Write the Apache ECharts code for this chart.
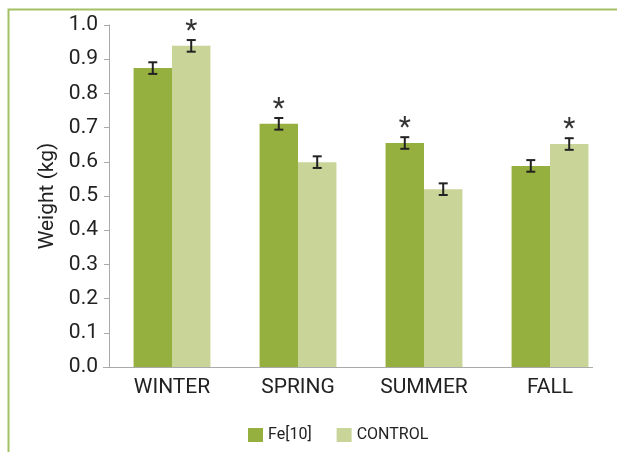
<!DOCTYPE html>
<html><head><meta charset="utf-8">
<script src="https://cdn.jsdelivr.net/npm/echarts@6/dist/echarts.min.js"></script>
<style>html,body{margin:0;padding:0;background:#fff}#c{width:617px;height:452px}</style>
</head><body><div id="c"></div>
<script>
const categories = ['WINTER', 'SPRING', 'SUMMER', 'FALL'];
const seriesNames = ['Fe[10]', 'CONTROL'];
const feValues = [0.874, 0.711, 0.655, 0.588];
const controlValues = [0.939, 0.599, 0.520, 0.652];
const feErrors = [0.017, 0.017, 0.017, 0.017];
const controlErrors = [0.017, 0.017, 0.017, 0.017];
const feSignificant = [false, true, true, false];
const controlSignificant = [true, false, false, true];
const yTicks = ['0.0','0.1','0.2','0.3','0.4','0.5','0.6','0.7','0.8','0.9','1.0'];

const FE_COLOR = '#95b03e';
const CTRL_COLOR = '#c8d498';
const GAP = 0.39;
const FONT = 'Roboto, "Noto Sans", sans-serif';

function errorSeries(idx, values, errors, sig) {
  return {
    type: 'custom',
    name: seriesNames[idx] + ' err',
    z: 5,
    silent: true,
    data: categories.map((c, i) => [i, values[i], errors[i], sig[i] ? 1 : 0]),
    renderItem: function (params, api) {
      const ci = api.value(0), v = api.value(1), e = api.value(2), s = api.value(3);
      const band = api.size([1, 0])[0];
      const barW = band * (1 - GAP) / 2;
      const cx = api.coord([ci, v])[0] + (idx === 0 ? -barW / 2 : barW / 2);
      const yHi = api.coord([ci, v + e])[1];
      const yLo = api.coord([ci, v - e])[1];
      const cap = 4.5;
      const st = { stroke: '#222', lineWidth: 2 };
      const children = [
        { type: 'line', shape: { x1: cx, y1: yHi, x2: cx, y2: yLo }, style: st },
        { type: 'line', shape: { x1: cx - cap, y1: yHi, x2: cx + cap, y2: yHi }, style: st },
        { type: 'line', shape: { x1: cx - cap, y1: yLo, x2: cx + cap, y2: yLo }, style: st }
      ];
      if (s) {
        children.push({ type: 'text', style: { text: '*', x: cx, y: yHi - 8, align: 'center', verticalAlign: 'middle', font: '28px ' + FONT, fill: '#333' } });
      }
      return { type: 'group', children: children };
    }
  };
}

const chart = echarts.init(document.getElementById('c'));
chart.setOption({
  animation: false,
  backgroundColor: '#fff',
  grid: { left: 109, right: 4, top: 25, bottom: 85, containLabel: false },
  legend: {
    data: seriesNames,
    bottom: 4,
    left: 243,
    itemWidth: 15, itemHeight: 14, itemGap: 25,
    icon: 'rect',
    textStyle: { fontFamily: FONT, fontSize: 16, color: '#222' }
  },
  xAxis: {
    type: 'category',
    data: categories,
    axisLine: { show: false },
    axisTick: { show: false },
    axisLabel: { fontFamily: FONT, fontSize: 21, color: '#222', margin: 10 }
  },
  yAxis: {
    type: 'value',
    min: 0, max: 1, interval: 0.1,
    name: 'Weight (kg)',
    nameLocation: 'middle',
    nameGap: 49,
    nameTextStyle: { fontFamily: FONT, fontSize: 21, color: '#222' },
    axisLine: { show: true, lineStyle: { color: '#aaa', width: 1 } },
    axisTick: { show: true, length: 5, lineStyle: { color: '#aaa' } },
    splitLine: { show: false },
    axisLabel: { fontFamily: FONT, fontSize: 21, color: '#222', margin: 11,
      formatter: function (v) { return yTicks[Math.round(v * 10)]; } }
  },
  series: [
    { name: seriesNames[0], type: 'bar', data: feValues, itemStyle: { color: FE_COLOR }, barGap: 0, barCategoryGap: (GAP * 100) + '%' },
    { name: seriesNames[1], type: 'bar', data: controlValues, itemStyle: { color: CTRL_COLOR }, barGap: 0, barCategoryGap: (GAP * 100) + '%' },
    errorSeries(0, feValues, feErrors, feSignificant),
    errorSeries(1, controlValues, controlErrors, controlSignificant)
  ]
});
const y0 = chart.convertToPixel({ yAxisIndex: 0 }, 0);
chart.setOption({
  graphic: [
    { type: 'line', shape: { x1: 103, y1: y0 + 0.5, x2: 593, y2: y0 + 0.5 }, style: { stroke: '#aaa', lineWidth: 1 }, z: 10 },
    { type: 'polyline', shape: { points: [[8.5, 452], [8.5, 9.5], [617, 9.5]] }, style: { stroke: '#a3c164', lineWidth: 2, fill: null }, z: 10 }
  ]
});
</script></body></html>
